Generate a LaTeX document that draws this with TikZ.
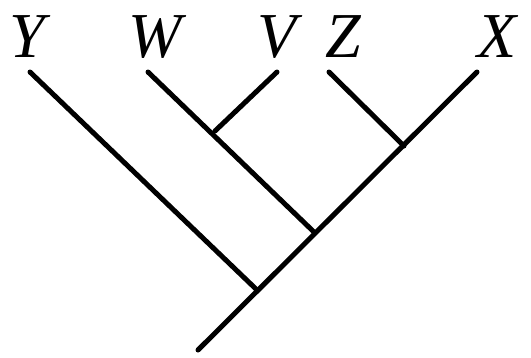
\documentclass[tikz,border=0pt]{standalone}
\usepackage{fontspec}
\setmainfont{Liberation Serif}
\usepackage{tikz}
\usetikzlibrary{positioning}
\tikzset{
  branch/.style ={line width=5pt, line cap=round, black},
  taxon/.style  ={font=\fontsize{64}{64}\selectfont\itshape, inner sep=0pt,
                  anchor=base},
}
\begin{document}
\begin{tikzpicture}[x=1pt, y=-1pt]
  \useasboundingbox (0,0) rectangle (531,357);
  % ---- tips of the branches
  \coordinate (tY) at (30,72);
  \coordinate (tW) at (148,72);
  \coordinate (tV) at (277,72);
  \coordinate (tZ) at (329,72);
  \coordinate (tX) at (477,72);
  % ---- inner nodes and root
  \coordinate (root) at (198,350);
  \coordinate (nY)   at (257,290);
  \coordinate (nW)   at (315,233);
  \coordinate (nV)   at (215,131);
  \coordinate (nZ)   at (404,146);
  % ---- taxon labels
  \node[taxon] (lY) at (27,57)  {Y};
  \node[taxon] (lW) at (155,57) {W};
  \node[taxon] (lV) at (277,57) {V};
  \node[taxon] (lZ) at (343,57) {Z};
  \node[taxon] (lX) at (497,57) {X};
  % ---- branches
  \draw[branch] (root) -- (tX);
  \draw[branch] (tY) -- (nY);
  \draw[branch] (tW) -- (nW);
  \draw[branch] (tV) -- (nV);
  \draw[branch] (tZ) -- (nZ);
\end{tikzpicture}
\end{document}
